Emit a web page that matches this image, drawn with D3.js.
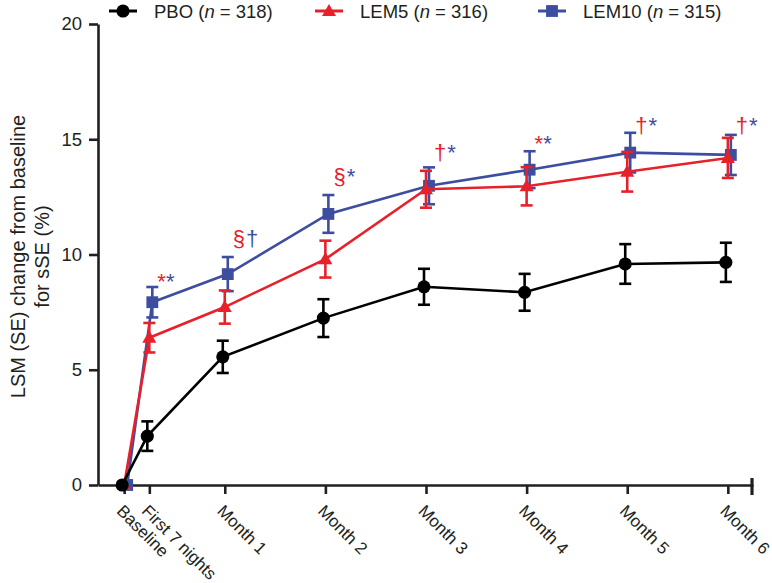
<!DOCTYPE html>
<html>
<head>
<meta charset="utf-8">
<script src="https://cdn.jsdelivr.net/npm/d3@7"></script>
<style>
  html, body { margin: 0; padding: 0; background: #fff; }
  svg { display: block; font-family: "Liberation Sans", Arial, sans-serif; }
</style>
</head>
<body>
<svg id="chart" width="772" height="583"></svg>
<script>
// ---- data ----
const times = [0, 0.25, 1, 2, 3, 4, 5, 6];
const timeLabels = ["Baseline", "First 7 nights", "Month 1", "Month 2", "Month 3", "Month 4", "Month 5", "Month 6"];
const pboMean  = [0, 2.12, 5.56, 7.24, 8.60, 8.36, 9.59, 9.66];
const pboSE    = [0, 0.64, 0.70, 0.82, 0.78, 0.80, 0.86, 0.85];
const lem5Mean = [0, 6.39, 7.72, 9.80, 12.83, 12.96, 13.59, 14.19];
const lem5SE   = [0, 0.64, 0.72, 0.80, 0.80, 0.83, 0.86, 0.87];
const lem10Mean= [0, 7.93, 9.15, 11.76, 12.98, 13.68, 14.42, 14.32];
const lem10SE  = [0, 0.66, 0.74, 0.82, 0.80, 0.80, 0.86, 0.87];
const yTicks = [0, 5, 10, 15, 20];
const seriesNames = ["PBO", "LEM5", "LEM10"];
const seriesN = [318, 316, 315];
// significance annotations (red = LEM5, blue = LEM10); annotY = label baseline in data units
const annotTimes = [0.25, 1, 2, 3, 4, 5, 6];
const annotRed   = ["*", "§", "§", "†", "*", "†", "†"];
const annotBlue  = ["*", "†", "*", "*", "*", "*", "*"];
const annotY     = [8.5, 10.37, 13.06, 14.1, 14.47, 15.27, 15.27];

// ---- styles ----
const AXIS = "#231f20";
const colors = { PBO: "#000000", LEM5: "#e8202a", LEM10: "#3d4ea1" };
const symbols = { PBO: d3.symbolCircle, LEM5: d3.symbolTriangle, LEM10: d3.symbolSquare };
const symSize = { PBO: 135, LEM5: 85, LEM10: 140 };
const dodge = { PBO: -2, LEM5: 0, LEM10: 3 };

const svg = d3.select("#chart");
const margin = { left: 98, right: 19, top: 24, bottom: 98 };
const W = 772, H = 583;

const x = d3.scaleLinear().domain([-0.26, 6.25]).range([margin.left, W - margin.right]);
const y = d3.scaleLinear().domain([0, 20]).range([H - margin.bottom, margin.top]);

// ---- y axis ----
const yAxis = svg.append("g")
  .attr("transform", `translate(${margin.left},0)`)
  .call(d3.axisLeft(y).tickValues(yTicks).tickSize(9).tickSizeOuter(0).tickPadding(7));
yAxis.select(".domain").attr("stroke", AXIS).attr("stroke-width", 2.6);
yAxis.selectAll(".tick line").attr("stroke", AXIS).attr("stroke-width", 2.6);
yAxis.selectAll(".tick text").attr("fill", AXIS).style("font-size", "18.5px")
  .style("font-family", '"Liberation Sans", Arial, sans-serif');

// ---- x axis ----
const xAxis = svg.append("g")
  .attr("transform", `translate(0,${y(0)})`)
  .call(d3.axisBottom(x).tickValues(times).tickSize(9).tickSizeOuter(0)
        .tickFormat((d, i) => timeLabels[i]));
xAxis.select(".domain").attr("stroke", AXIS).attr("stroke-width", 2.6);
xAxis.selectAll(".tick line").attr("stroke", AXIS).attr("stroke-width", 2.6);
xAxis.selectAll(".tick text")
  .attr("fill", AXIS)
  .style("font-size", "17px")
  .style("font-family", '"Liberation Sans", Arial, sans-serif')
  .attr("text-anchor", "start")
  .attr("x", 0).attr("y", 0).attr("dy", 0)
  .attr("transform", "translate(-9,27) rotate(45)");
// right end tick of the axis
xAxis.append("line")
  .attr("x1", x.range()[1] - 1).attr("x2", x.range()[1] - 1)
  .attr("y1", -7).attr("y2", 10)
  .attr("stroke", AXIS).attr("stroke-width", 3.2);

// ---- y axis title ----
const yTitle = svg.append("text")
  .attr("transform", `translate(0,${(y(0) + y(20)) / 2 + 2}) rotate(-90)`)
  .attr("text-anchor", "middle")
  .attr("fill", AXIS)
  .style("font-size", "20px");
yTitle.append("tspan").attr("x", 0).attr("y", 25).text("LSM (SE) change from baseline");
yTitle.append("tspan").attr("x", 0).attr("y", 49).text("for sSE (%)");

// ---- series ----
const series = [
  { name: "LEM10", mean: lem10Mean, se: lem10SE },
  { name: "LEM5",  mean: lem5Mean,  se: lem5SE },
  { name: "PBO",   mean: pboMean,   se: pboSE }
];

const line = d3.line().x(d => d.px).y(d => y(d.v));

series.forEach(s => {
  const col = colors[s.name];
  const pts = times.map((t, i) => ({ px: x(t) + dodge[s.name], v: s.mean[i], se: s.se[i] }));
  const g = svg.append("g");
  g.append("path").datum(pts)
    .attr("d", line).attr("fill", "none")
    .attr("stroke", col).attr("stroke-width", 2.6);
  const eb = g.selectAll(".eb").data(pts.filter(p => p.se > 0)).join("g");
  eb.append("line")
    .attr("x1", d => d.px).attr("x2", d => d.px)
    .attr("y1", d => y(d.v - d.se)).attr("y2", d => y(d.v + d.se))
    .attr("stroke", col).attr("stroke-width", 2.6);
  [-1, 1].forEach(sign => {
    eb.append("line")
      .attr("x1", d => d.px - 6).attr("x2", d => d.px + 6)
      .attr("y1", d => y(d.v + sign * d.se)).attr("y2", d => y(d.v + sign * d.se))
      .attr("stroke", col).attr("stroke-width", 2.6);
  });
  g.selectAll(".pt").data(pts).join("path")
    .attr("transform", d => `translate(${d.px},${y(d.v) + (s.name === "LEM5" ? 1 : 0)})`)
    .attr("d", d3.symbol().type(symbols[s.name]).size(symSize[s.name]))
    .attr("fill", col);
});

// ---- annotations ----
annotTimes.forEach((t, i) => {
  const tx = svg.append("text")
    .attr("x", x(t) + 8).attr("y", y(annotY[i]))
    .style("font-size", "22px");
  tx.append("tspan").attr("fill", colors.LEM5).text(annotRed[i]);
  tx.append("tspan").attr("fill", colors.LEM10).attr("dx", annotRed[i] === "*" ? 0 : 1).text(annotBlue[i]);
});

// ---- legend ----
const legendX = [109, 315, 538];
const legendOrder = ["PBO", "LEM5", "LEM10"];
legendOrder.forEach((name, i) => {
  const g = svg.append("g").attr("transform", `translate(${legendX[i]},11)`);
  g.append("line").attr("x1", 0).attr("x2", 28).attr("y1", 0).attr("y2", 0)
    .attr("stroke", colors[name]).attr("stroke-width", 3);
  g.append("path").attr("transform", `translate(14,${name === "LEM5" ? 1 : 0})`)
    .attr("d", d3.symbol().type(symbols[name]).size(symSize[name]))
    .attr("fill", colors[name]);
  const t = g.append("text").attr("x", 45).attr("y", 7).attr("fill", AXIS)
    .style("font-size", "18.5px");
  t.append("tspan").text(`${seriesNames[i]} (`);
  t.append("tspan").style("font-style", "italic").text("n");
  t.append("tspan").text(` = ${seriesN[i]})`);
});
</script>
</body>
</html>
